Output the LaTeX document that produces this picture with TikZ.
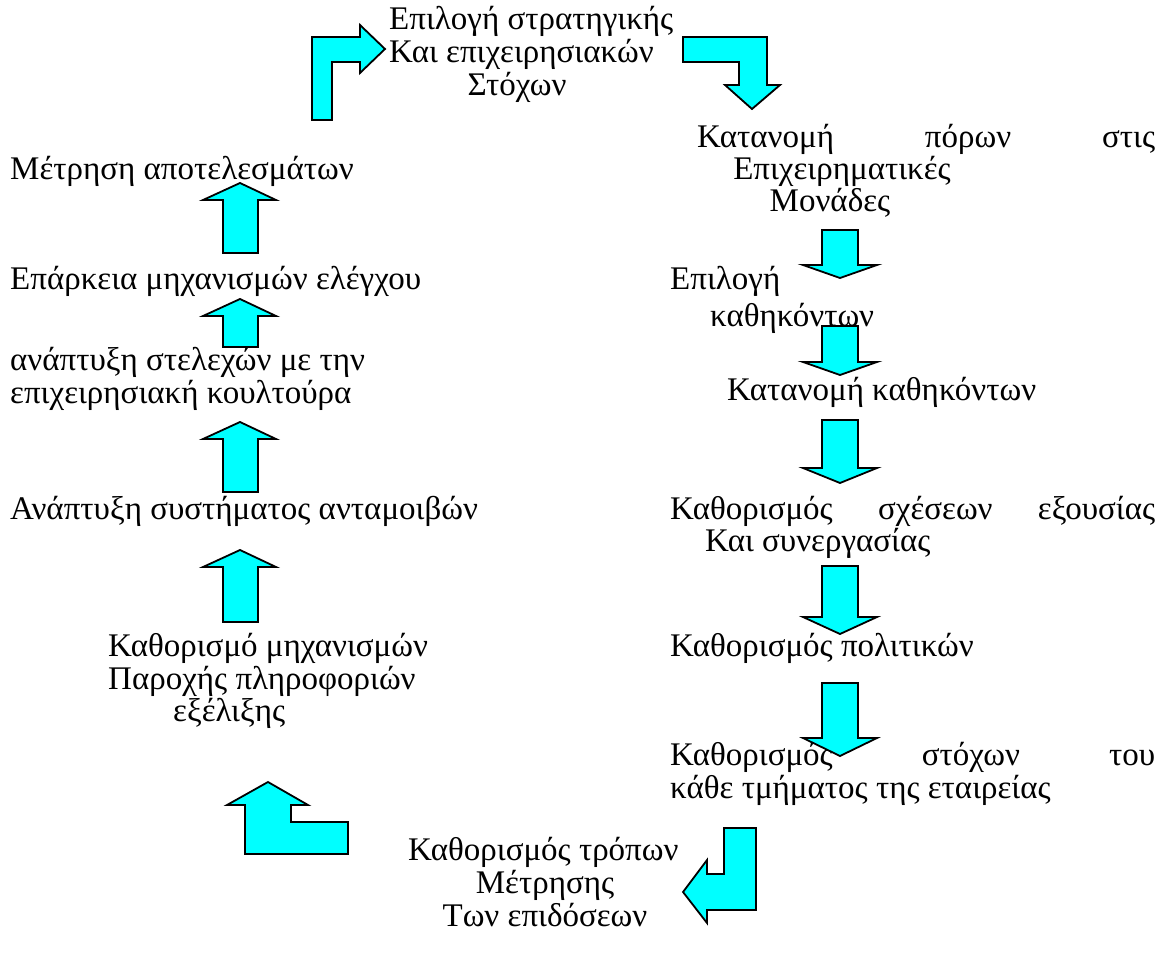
\documentclass[tikz,border=0pt]{standalone}
\usepackage{fontspec}
\setmainfont{Liberation Serif}
\definecolor{aqua}{RGB}{0,255,255}
\begin{document}
\begin{tikzpicture}[
	x=1pt, y=-1pt,
	txt/.style={inner sep=0pt, font=\fontsize{33}{36}\selectfont},
	blockarrow/.style={
		fill=aqua, draw=black, line width=1.8pt, line join=miter
	}
]
	\useasboundingbox (0,0) rectangle (1165,960);
	% Top: strategy
	\node[txt, anchor=base west] (goal1) at (389,30) {Επιλογή στρατηγικής};
	\node[txt, anchor=base west] (goal2) at (389,63) {Και επιχειρησιακών};
	\node[txt, anchor=base] (goal3) at (517,96) {Στόχων};
	% Right column
	\node[txt, anchor=base west] (alloc1) at (697,148) {\makebox[458pt][s]{Κατανομή πόρων στις}};
	\node[txt, anchor=base] (alloc2) at (842,180) {Επιχειρηματικές};
	\node[txt, anchor=base] (alloc3) at (830,212) {Μονάδες};
	\node[txt, anchor=base west] (duty1) at (670,290) {Επιλογή};
	\node[txt, anchor=base west] (duty2) at (710,326) {καθηκόντων};
	\node[txt, anchor=base west] (share) at (727,400) {Κατανομή καθηκόντων};
	\node[txt, anchor=base west] (auth1) at (670,519) {\makebox[485pt][s]{Καθορισμός σχέσεων εξουσίας}};
	\node[txt, anchor=base west] (auth2) at (705,551) {Και συνεργασίας};
	\node[txt, anchor=base west] (policy) at (670,656) {Καθορισμός πολιτικών};
	\node[txt, anchor=base west] (dept1) at (670,765) {\makebox[485pt][s]{Καθορισμός στόχων του}};
	\node[txt, anchor=base west] (dept2) at (670,798) {κάθε τμήματος της εταιρείας};
	% Bottom
	\node[txt, anchor=base west] (perf1) at (408,860) {Καθορισμός τρόπων};
	\node[txt, anchor=base] (perf2) at (545,893) {Μέτρησης};
	\node[txt, anchor=base] (perf3) at (545,926) {Των επιδόσεων};
	% Left column
	\node[txt, anchor=base west] (info1) at (108,656) {Καθορισμό μηχανισμών};
	\node[txt, anchor=base west] (info2) at (108,689) {Παροχής πληροφοριών};
	\node[txt, anchor=base west] (info3) at (173,721) {εξέλιξης};
	\node[txt, anchor=base west] (reward) at (10,519) {Ανάπτυξη συστήματος ανταμοιβών};
	\node[txt, anchor=base west] (staff1) at (10,370) {ανάπτυξη στελεχών με την};
	\node[txt, anchor=base west] (staff2) at (10,403) {επιχειρησιακή κουλτούρα};
	\node[txt, anchor=base west] (ctrl) at (10,290) {Επάρκεια μηχανισμών ελέγχου};
	\node[txt, anchor=base west] (meas) at (10,180) {Μέτρηση αποτελεσμάτων};

	% Bent arrows
	\draw[blockarrow] (312,120) -- (312,37) -- (360,37) -- (360,25) -- (385,49)
		-- (360,73) -- (360,62) -- (332,62) -- (332,120) -- cycle;
	\draw[blockarrow] (683,37) -- (767,37) -- (767,85) -- (780,85) -- (752,109)
		-- (725,85) -- (739,85) -- (739,62) -- (683,62) -- cycle;
	\draw[blockarrow] (756,828) -- (756,910) -- (707,910) -- (707,923) -- (683,892)
		-- (707,860) -- (707,874) -- (724,874) -- (724,828) -- cycle;
	\draw[blockarrow] (268,782) -- (308,805) -- (291,805) -- (291,822) -- (348,822)
		-- (348,854) -- (245,854) -- (245,805) -- (227,805) -- cycle;
	% Down arrows (top, head, tip)
	\foreach \a/\c/\d in {230/265/278, 326/362/375, 420/468/483, 566/617/634, 683/738/756} {
		\draw[blockarrow] (822,\a) -- (858,\a) -- (858,\c) -- (877,\c) -- (840,\d)
			-- (803,\c) -- (822,\c) -- cycle;
	}
	% Up arrows (tip, bottom)
	\foreach \t/\b in {183/253, 299/347, 422/492, 550/622} {
		\draw[blockarrow] (240,\t) -- (276,\t+17) -- (258,\t+17) -- (258,\b)
			-- (223,\b) -- (223,\t+17) -- (203,\t+17) -- cycle;
	}
\end{tikzpicture}
\end{document}
